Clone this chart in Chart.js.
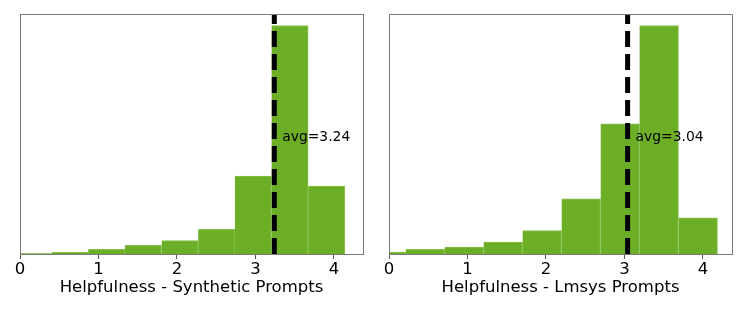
<!DOCTYPE html>
<html>
<head>
<meta charset="utf-8">
<script src="https://cdn.jsdelivr.net/npm/chart.js@4/dist/chart.umd.min.js"></script>
<style>
  html, body { margin: 0; padding: 0; background: #fff; }
  #wrap { position: relative; width: 747px; height: 312px; }
  canvas { position: absolute; top: 0; }
  #left { left: 0; }
  #right { left: 374px; }
</style>
</head>
<body>
<div id="wrap">
  <canvas id="left" width="374" height="312"></canvas>
  <canvas id="right" width="373" height="312"></canvas>
</div>
<script>
// bin centres and heights (relative counts)
const synthCentres = [0.17, 0.636, 1.103, 1.57, 2.037, 2.504, 2.971, 3.438, 3.905];
const synthCounts = [0.3, 1.7, 4.7, 8.7, 13.3, 24.7, 77.7, 228, 67.7];
const synthAvg = 3.24;

const lmsysCentres = [-0.036, 0.46, 0.957, 1.454, 1.95, 2.447, 2.944, 3.44, 3.937];
const lmsysCounts = [2, 4.7, 7, 12, 23.3, 55, 130, 228, 36];
const lmsysAvg = 3.04;

const xTicks = [0, 1, 2, 3, 4];
const xMax = 4.37;
const yMax = 239.5;

const barColor = '#6caf27';
const font = "'DejaVu Sans', sans-serif";

const framePlugin = {
  id: 'frame',
  afterDatasetsDraw(chart) {
    const a = chart.chartArea;
    const ctx = chart.ctx;
    ctx.save();
    ctx.strokeStyle = '#7a7a7a';
    ctx.lineWidth = 1;
    ctx.strokeRect(Math.round(a.left) + 0.5, Math.round(a.top) + 0.5,
      Math.round(a.right - a.left), Math.round(a.bottom - a.top));
    ctx.restore();
  }
};

const avgLabel = {
  id: 'avgLabel',
  afterDatasetsDraw(chart, args, opts) {
    const x = chart.scales.x.getPixelForValue(opts.value + 0.1);
    const y = chart.scales.y.getPixelForValue(116);
    const ctx = chart.ctx;
    ctx.save();
    ctx.font = '13.9px ' + font;
    ctx.fillStyle = '#000';
    ctx.textBaseline = 'middle';
    ctx.fillText('avg=' + opts.value.toFixed(2), x, y);
    ctx.restore();
  }
};

function makeChart(id, centres, counts, avg, title, padLeft, padRight) {
  new Chart(document.getElementById(id), {
    type: 'bar',
    data: {
      datasets: [{
        type: 'bar',
        data: centres.map((c, i) => ({ x: c, y: counts[i] })),
        backgroundColor: barColor,
        borderColor: '#86c24c',
        borderWidth: { top: 1, right: 1, bottom: 0, left: 0 },
        borderSkipped: false,
        barPercentage: 1,
        categoryPercentage: 1,
        clip: 0,
        order: 2
      }, {
        type: 'line',
        data: [{ x: avg, y: 0 }, { x: avg, y: yMax }],
        borderColor: '#000',
        borderWidth: 5,
        borderDash: [16, 7],
        pointRadius: 0,
        clip: 0,
        order: 1
      }]
    },
    options: {
      responsive: false,
      devicePixelRatio: 1,
      animation: false,
      layout: { padding: { left: padLeft, right: padRight, top: 14, bottom: 0 } },
      plugins: {
        legend: { display: false },
        tooltip: { enabled: false },
        avgLabel: { value: avg }
      },
      scales: {
        x: {
          type: 'linear',
          min: 0,
          max: xMax,
          offset: false,
          afterBuildTicks: s => { s.ticks = xTicks.map(v => ({ value: v })); },
          afterFit: s => { s.height = 58; },
          grid: { display: true, drawOnChartArea: false, offset: false, tickLength: 5, color: '#555', tickWidth: 1 },
          border: { display: false },
          ticks: { color: '#000', font: { family: font, size: 16.5 }, padding: 1, maxRotation: 0 },
          title: { display: true, text: title, color: '#000', font: { family: font, size: 16.5 }, padding: { top: 0, bottom: 14 } }
        },
        y: {
          min: 0,
          max: yMax,
          display: false
        }
      }
    },
    plugins: [framePlugin, avgLabel]
  });
}

makeChart('left', synthCentres, synthCounts, synthAvg, 'Helpfulness - Synthetic Prompts', 20, 11);
makeChart('right', lmsysCentres, lmsysCounts, lmsysAvg, 'Helpfulness - Lmsys Prompts', 15, 15);
</script>
</body>
</html>
